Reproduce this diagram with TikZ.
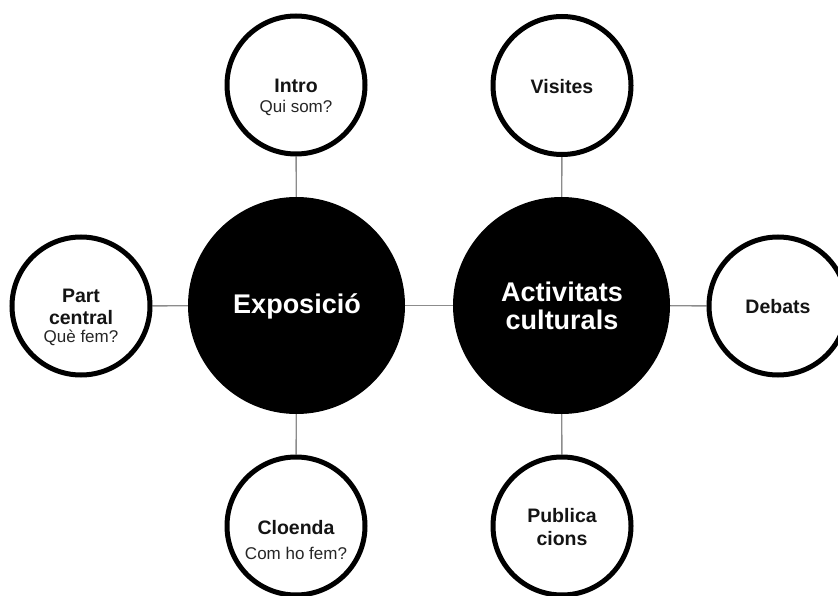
\documentclass[tikz,border=0pt]{standalone}
\usepackage{fontspec}
\setmainfont{Liberation Sans}
\usetikzlibrary{backgrounds}
\begin{document}
\begin{tikzpicture}[x=1pt,y=-1pt,
  big/.style={circle,fill=black,minimum size=217pt,inner sep=0pt},
  small/.style={circle,draw=black,line width=5pt,fill=white,minimum size=138pt,inner sep=0pt},
  bigtxt/.style={text=white,font=\bfseries\fontsize{27}{30}\selectfont,inner sep=0pt},
  ttl/.style={text=black!92,font=\bfseries\fontsize{19.5}{22}\selectfont,inner sep=0pt},
  sub/.style={text=black!85,font=\fontsize{17}{20}\selectfont,inner sep=0pt},
  link/.style={draw=black!45,line width=1.4pt}]
\useasboundingbox (0,0) rectangle (838,596);
% main circles
\node[big] (expo) at (296.5,305.5) {};
\node[big] (act) at (561.5,305.5) {};
\node[bigtxt] (expoT) at (297,306) {Exposició};
\node[bigtxt] (actT1) at (562,292) {Activitats};
\node[bigtxt] (actT2) at (562,320) {culturals};
% small circles
\node[small] (intro) at (296,85) {};
\node[small] (vis) at (562,85.5) {};
\node[small] (part) at (81,306) {};
\node[small] (deb) at (778,306) {};
\node[small] (clo) at (296,526) {};
\node[small] (pub) at (562,526) {};
% texts
\node[ttl] (introT) at (296,86) {Intro};
\node[sub] (introS) at (296,108) {Qui som?};
\node[ttl] (visT) at (562,87) {Visites};
\node[ttl] (partT1) at (81,296) {Part};
\node[ttl] (partT2) at (81,318) {central};
\node[sub] (partS) at (81,338) {Què fem?};
\node[ttl] (debT) at (778,307) {Debats};
\node[ttl] (cloT) at (296,528) {Cloenda};
\node[sub] (cloS) at (296,553) {Com ho fem?};
\node[ttl] (pubT1) at (562,516) {Publica};
\node[ttl] (pubT2) at (562,539) {cions};
% connectors
\begin{scope}[on background layer]
\draw[link] (intro) -- (expo);
\draw[link] (part) -- (expo);
\draw[link] (clo) -- (expo);
\draw[link] (expo) -- (act);
\draw[link] (vis) -- (act);
\draw[link] (deb) -- (act);
\draw[link] (pub) -- (act);
\end{scope}
\end{tikzpicture}
\end{document}
